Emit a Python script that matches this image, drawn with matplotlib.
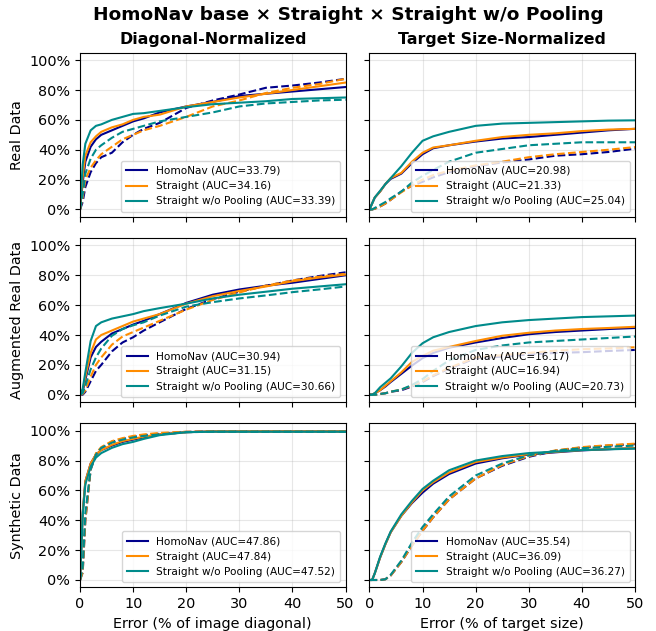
"""Recreate the HomoNav / Straight / Straight w/o Pooling error CDF comparison."""

import matplotlib

matplotlib.use("Agg")
import matplotlib.pyplot as plt
import numpy as np
from matplotlib.ticker import PercentFormatter

# Error thresholds (percent) at which each curve was read
X_GRID = [0, 0.5, 1, 2, 3, 4, 6, 8, 10, 12, 15, 20, 25, 30, 35, 40, 45, 50]

MODELS = ["HomoNav", "Straight", "Straight w/o Pooling"]
COLORS = ["darkblue", "darkorange", "darkcyan"]

ROW_LABELS = ["Real Data", "Augmented Real Data", "Synthetic Data"]
COL_TITLES = ["Diagonal-Normalized", "Target Size-Normalized"]
X_LABELS = ["Error (% of image diagonal)", "Error (% of target size)"]

# Real data, diagonal-normalized
REAL_DIAG_SOLID = [
    [0, 18, 32, 42, 47, 50, 53, 56, 59, 61, 65, 69, 72, 76, 77.5, 79, 80.5, 82],
    [0, 22, 36, 45, 49, 52, 55, 57, 60, 62, 63.5, 69, 72, 75, 77.5, 80, 82.5, 85],
    [0, 30, 44, 53, 56, 57, 60, 62, 64, 64.5, 66, 68.5, 70.5, 71.5, 72.5, 74, 74.5, 75],
]
REAL_DIAG_DASHED = [
    [0, 5, 15, 25, 31, 35, 38, 45, 50, 54, 58, 68, 73, 77, 81.5, 83, 85, 87.5],
    [0, 8, 20, 28, 33, 37, 42, 47, 50, 53, 56, 62, 69, 73, 78, 81.5, 84, 87.5],
    [0, 10, 24, 34, 40, 43, 48, 52, 54, 56, 59, 62, 65, 69, 71, 72, 73, 73.5],
]
REAL_DIAG_AUC = [33.79, 34.16, 33.39]

# Real data, target-size-normalized
REAL_TGT_SOLID = [
    [0, 4, 8, 12, 17, 20.5, 24, 31, 37, 41, 43, 45.5, 47.5, 48.5, 50, 51.5, 53, 54],
    [0, 4, 8, 12, 17, 21, 24.5, 32, 38, 41.5, 43, 46, 48.5, 50, 51, 52.5, 53.5, 54],
    [0, 4, 8, 12.5, 17, 21, 29, 38, 46, 49, 52, 56, 57.5, 58, 58.5, 59, 59.5, 59.7],
]
REAL_TGT_DASHED = [
    [0, 0, 0.5, 2, 4, 6.5, 12, 16, 18.5, 21.5, 25, 29, 31.5, 33.5, 36, 37, 38.5, 40.7],
    [0, 0, 0.5, 2, 4, 6.5, 11.5, 16, 20, 23, 26, 29.5, 32, 35, 37, 38.5, 40, 41.8],
    [0, 0, 1, 3, 5, 7.5, 12, 18, 22.5, 26.5, 32, 38, 40.5, 43, 44, 45, 45, 45],
]
REAL_TGT_AUC = [20.98, 21.33, 25.04]

# Augmented real data, diagonal-normalized
AUG_DIAG_SOLID = [
    [0, 2, 10, 25, 32, 35.5, 41, 44, 47, 49.5, 54, 61.5, 67, 70.5, 73, 75, 77.5, 80],
    [0, 3, 12, 28, 37, 40, 43, 46, 49, 51, 54, 61, 66, 69.5, 72.5, 76, 78.5, 80.5],
    [0, 4, 15, 36, 46, 48.5, 51, 52.5, 54, 56, 58, 61, 64.5, 67, 69, 71, 72.5, 74],
]
AUG_DIAG_DASHED = [
    [0, 0, 2, 9, 16, 20, 29, 35, 38.5, 43, 48.5, 57.5, 64, 69, 73, 76.5, 79.5, 82],
    [0, 0.5, 3, 12, 20, 25, 33.5, 39, 42, 45, 49.5, 57, 63.5, 68.5, 73, 76.5, 79, 81],
    [0, 1, 6, 17, 25, 31, 39.5, 44, 46.5, 48.5, 53, 59, 62, 64.5, 66.5, 68.7, 70.5, 72.5],
]
AUG_DIAG_AUC = [30.94, 31.15, 30.66]

# Augmented real data, target-size-normalized
AUG_TGT_SOLID = [
    [0, 0, 1, 3, 5.5, 8.5, 14, 19.5, 24.5, 28, 31.5, 35, 38, 40.5, 42, 43, 44, 44.7],
    [0, 0, 1, 3, 6, 9, 15, 22, 26, 29.5, 32, 36, 39.5, 41.5, 43, 44, 44.7, 45.5],
    [0, 0, 1, 5, 8, 11, 19, 28, 34.5, 38.5, 42, 46, 48.5, 50, 51, 52, 52.5, 53],
]
AUG_TGT_DASHED = [
    [0, 0, 0, 0.5, 1, 2, 3, 5.5, 8.5, 12.5, 17.5, 24.5, 25.5, 27, 28, 28.5, 29.3, 30],
    [0, 0, 0, 0.5, 1, 2, 3.5, 6, 9, 13, 18, 25, 26.5, 28, 29.5, 30.5, 31, 31.8],
    [0, 0, 0, 0.5, 1, 2, 3.5, 6.5, 10.5, 16, 23, 30, 33, 35, 36, 37, 38, 39],
]
AUG_TGT_AUC = [16.17, 16.94, 20.73]

# Synthetic data, diagonal-normalized
SYN_DIAG_SOLID = [
    [0, 45, 66, 78, 84, 87, 90, 92.5, 94, 95.5, 97.5, 99, 99.5, 99.5, 99.5, 99.5, 99.5, 99.5],
    [0, 45, 66, 78, 84, 87, 90.5, 93, 94.5, 96, 97.5, 99, 99.5, 99.5, 99.5, 99.5, 99.5, 99.5],
    [0, 43, 64, 76, 82, 85, 88.5, 91, 92.5, 94.5, 97, 99, 99.3, 99.3, 99.3, 99.3, 99.3, 99.3],
]
SYN_DIAG_DASHED = [
    [0, 5, 40, 74, 84, 88.5, 92.5, 94.5, 96, 97, 98, 99.2, 99.5, 99.5, 99.5, 99.5, 99.5, 99.5],
    [0, 5, 40, 74, 85, 89, 93, 95, 96.5, 97.5, 98.5, 99.3, 99.5, 99.5, 99.5, 99.5, 99.5, 99.5],
    [0, 8, 45, 74, 84, 88.5, 92, 94, 95.5, 96.5, 97.5, 99, 99.3, 99.3, 99.3, 99.3, 99.3, 99.3],
]
SYN_DIAG_AUC = [47.86, 47.84, 47.52]

# Synthetic data, target-size-normalized
SYN_TGT_SOLID = [
    [0, 0, 4.5, 15, 24, 32, 43, 51.5, 58.5, 64.5, 71, 78, 81.5, 84, 85.5, 86.8, 87.6, 88.3],
    [0, 0, 4.5, 15, 24, 32, 43, 52, 60, 65.5, 72, 79, 82, 84.3, 85.8, 87, 87.7, 88.3],
    [0, 0, 4.5, 15.5, 24.5, 32.5, 44, 53, 61, 66.5, 73.5, 80, 83, 85, 86, 87, 87.5, 88],
]
SYN_TGT_DASHED = [
    [0, 0, 0, 0, 0.5, 3, 12, 23, 33, 42, 54, 68, 76.5, 82.5, 86.5, 88.8, 90, 91],
    [0, 0, 0, 0, 0.5, 3, 12, 23, 33, 42, 54, 68, 77, 83, 86.8, 89, 90.3, 91.3],
    [0, 0, 0, 0, 0.5, 3.5, 13, 25, 35.5, 44, 56, 70, 78, 83.5, 86.5, 88.3, 89.2, 90],
]
SYN_TGT_AUC = [35.54, 36.09, 36.27]

PANELS = [
    [(REAL_DIAG_SOLID, REAL_DIAG_DASHED, REAL_DIAG_AUC),
     (REAL_TGT_SOLID, REAL_TGT_DASHED, REAL_TGT_AUC)],
    [(AUG_DIAG_SOLID, AUG_DIAG_DASHED, AUG_DIAG_AUC),
     (AUG_TGT_SOLID, AUG_TGT_DASHED, AUG_TGT_AUC)],
    [(SYN_DIAG_SOLID, SYN_DIAG_DASHED, SYN_DIAG_AUC),
     (SYN_TGT_SOLID, SYN_TGT_DASHED, SYN_TGT_AUC)],
]


def draw_panel(ax, solid, dashed, aucs):
    """Draw the solid and dashed error curves for one panel."""
    x = np.array(X_GRID)
    handles = []
    for name, color, ys, yd, auc in zip(MODELS, COLORS, solid, dashed, aucs):
        (h,) = ax.plot(x, ys, color=color, lw=1.5, label=f"{name} (AUC={auc:.2f})")
        ax.plot(x, yd, color=color, lw=1.5, ls="--")
        handles.append(h)
    ax.legend(handles=handles, loc="lower right", fontsize=7.55,
              labelspacing=0.5, borderpad=0.5)
    ax.grid(True, alpha=0.3)
    ax.set_xlim(0, 50)
    ax.set_ylim(-5, 105)
    ax.set_yticks(np.arange(0, 101, 20))
    ax.yaxis.set_major_formatter(PercentFormatter(decimals=0))
    ax.tick_params(labelsize=10.4)


def main():
    fig, axes = plt.subplots(3, 2, figsize=(6.56, 6.31), dpi=100, sharex=True, sharey=True)
    fig.subplots_adjust(left=0.122, right=0.968, top=0.9165, bottom=0.069,
                        wspace=0.09, hspace=0.128)

    for r, row in enumerate(PANELS):
        for c, (solid, dashed, aucs) in enumerate(row):
            draw_panel(axes[r, c], solid, dashed, aucs)

    for c, title in enumerate(COL_TITLES):
        axes[0, c].set_title(title, fontsize=11.4, fontweight="bold")
        axes[-1, c].set_xlabel(X_LABELS[c], fontsize=10.4)
    for r, label in enumerate(ROW_LABELS):
        axes[r, 0].set_ylabel(label, fontsize=10.4)

    fig.suptitle("HomoNav base × Straight × Straight w/o Pooling",
                 fontsize=13.3, fontweight="bold", x=0.531, y=0.99)
    fig.savefig("out.png", dpi=100)


if __name__ == "__main__":
    main()
